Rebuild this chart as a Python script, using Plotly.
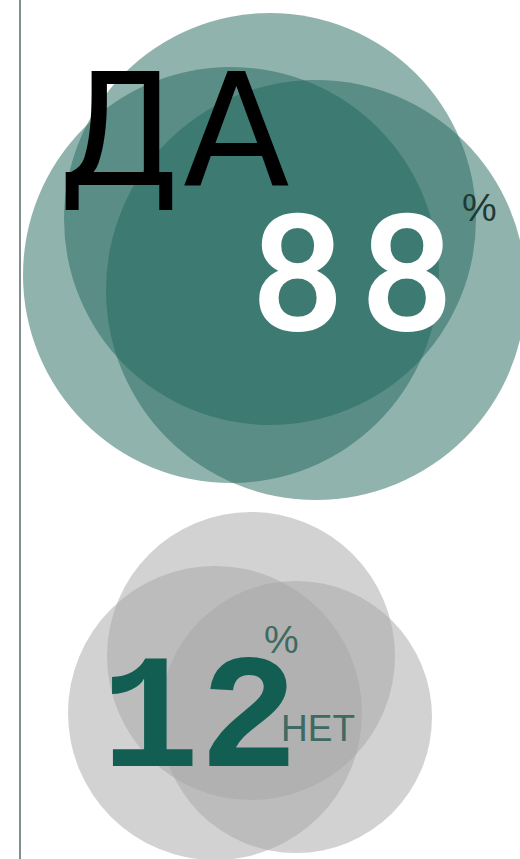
import plotly.graph_objects as go

# ---- data ----
labels = ["ДА", "НЕТ"]
values = [88, 12]
unit = "%"

# ---- decorative styling (layout constants) ----
W, H = 520, 859
green_base = "rgb(33,104,93)"
gray_base = "rgb(165,165,165)"
# (cx, cy, r) triplets of the overlapping decorative discs, pixel space
green_discs = [(270, 219, 206), (231, 275, 208), (316, 290, 210)]
gray_discs = [(251, 656, 144), (215, 713, 147), (296, 717, 136)]

fig = go.Figure()
fig.add_trace(go.Scatter(x=[0, W], y=[0, H], mode="markers",
                         marker=dict(opacity=0), hoverinfo="skip", showlegend=False))

shapes = []
for (cx, cy, r) in green_discs:
    shapes.append(dict(type="circle", xref="x", yref="y", x0=cx - r, x1=cx + r,
                       y0=cy - r, y1=cy + r, fillcolor=green_base, opacity=0.5,
                       line=dict(width=0), layer="below"))
for (cx, cy, r) in gray_discs:
    shapes.append(dict(type="circle", xref="x", yref="y", x0=cx - r, x1=cx + r,
                       y0=cy - r, y1=cy + r, fillcolor=gray_base, opacity=0.5,
                       line=dict(width=0), layer="below"))
shapes.append(dict(type="line", xref="x", yref="y", x0=20, x1=20, y0=0, y1=H,
                   line=dict(color="#7f8f8b", width=2)))

ann = []
# yes block
ann.append(dict(text=f'<span style="letter-spacing:3px">{labels[0]}</span>', x=175, y=131,
                font=dict(family="DejaVu Sans", size=156, color="#000000")))
ann.append(dict(text=f'<span style="letter-spacing:16px">{values[0]}</span>', x=360, y=274,
                font=dict(family="Roboto", size=164, color="#ffffff", weight=500)))
ann.append(dict(text=unit, x=479, y=207, font=dict(family="Liberation Sans", size=39, color="#1e3a35")))
# no block
ann.append(dict(text=str(values[1]), x=199, y=722,
                font=dict(family="Liberation Mono", size=164, color="#135e52", weight="bold")))
ann.append(dict(text=unit, x=281, y=639, font=dict(family="Liberation Sans", size=39, color="#3e6a61")))
ann.append(dict(text=labels[1], x=318, y=728, font=dict(family="Liberation Sans", size=37, color="#3e6a61")))
for a in ann:
    a.update(xref="x", yref="y", showarrow=False, xanchor="center", yanchor="middle")

fig.update_layout(
    width=W, height=H, margin=dict(l=0, r=0, t=0, b=0),
    paper_bgcolor="white", plot_bgcolor="white",
    xaxis=dict(range=[0, W], visible=False, fixedrange=True),
    yaxis=dict(range=[H, 0], visible=False, fixedrange=True),
    shapes=shapes, annotations=ann, showlegend=False,
)
fig.write_html("out.html", config={"displayModeBar": False},
               post_script="document.body.style.margin='0';document.body.style.overflow='hidden';")
